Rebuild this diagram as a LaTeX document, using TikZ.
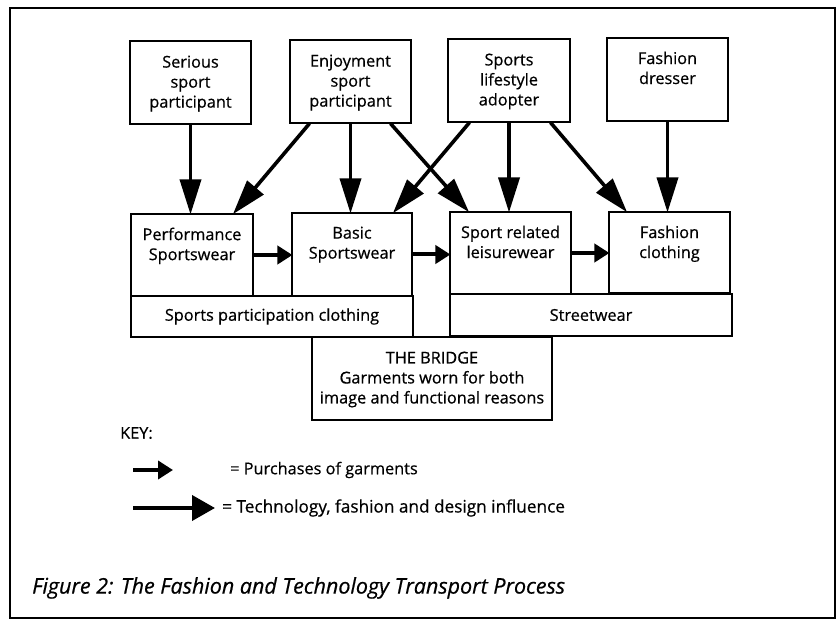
\documentclass[tikz,border=0pt]{standalone}
\usepackage{fontspec}
\setmainfont{Open Sans}
\newfontfamily\txtfont{Open Sans}[FakeBold=0.6]
\usetikzlibrary{arrows.meta,calc}

\tikzset{
  box/.style={draw, line width=1.1pt, inner sep=0pt},
  lbl/.style={anchor=north, align=center, inner sep=0pt,
              font=\txtfont\fontsize{16.3}{20}\selectfont},
  infl/.style={line width=3.6pt, -{Triangle[length=35pt,width=21pt]}, shorten >=-1pt},
  buy/.style={line width=4pt, -{Triangle[length=15pt,width=18pt]}, shorten >=-1pt},
  keyarrow/.style={line width=4pt, -{Triangle[length=23pt,width=25pt]}},
  plain/.style={anchor=west, inner sep=0pt, font=\txtfont\fontsize{16.3}{18}\selectfont},
}

\begin{document}
\begin{tikzpicture}[x=1pt,y=-1pt]
  \useasboundingbox (0,0) rectangle (838,620);

  % outer frame
  \draw[line width=2.3pt] (10,8) rectangle (835,618);

  % consumer groups
  \node[box, minimum width=121pt, minimum height=83pt] (ser) at (190.5,82.5) {};
  \node[box, minimum width=121pt, minimum height=83pt] (enj) at (350.5,81.5) {};
  \node[box, minimum width=122pt, minimum height=83pt] (spl) at (509,80.5) {};
  \node[box, minimum width=121pt, minimum height=83pt] (fdr) at (667.5,79.5) {};
  \node[lbl] (serT) at ($(ser.north)+(0,15)$) {Serious\\sport\\participant};
  \node[lbl] (enjT) at ($(enj.north)+(0,15)$) {Enjoyment\\sport\\participant};
  \node[lbl] (splT) at ($(spl.north)+(0,15)$) {Sports\\lifestyle\\adopter};
  \node[lbl] (fdrT) at ($(fdr.north)+(0,14)$) {Fashion\\dresser};

  % garment categories
  \node[box, minimum width=122pt, minimum height=82pt] (perf) at (192,255) {};
  \node[box, minimum width=120pt, minimum height=83pt] (basic) at (352,254.5) {};
  \node[box, minimum width=121pt, minimum height=82pt] (srl) at (510.5,253) {};
  \node[box, minimum width=121pt, minimum height=81pt] (fcl) at (669.5,252.5) {};
  \node[lbl] (perfT) at ($(perf.north)+(0,14)$) {Performance\\Sportswear};
  \node[lbl] (basicT) at ($(basic.north)+(0,14)$) {Basic\\Sportswear};
  \node[lbl] (srlT) at ($(srl.north)+(0,14)$) {Sport related\\leisurewear};
  \node[lbl] (fclT) at ($(fcl.north)+(0,14)$) {Fashion\\clothing};

  % groupings
  \node[box, minimum width=282pt, minimum height=41pt,
        font=\txtfont\fontsize{16.3}{18}\selectfont] (spc) at (272,316.5) {Sports participation clothing};
  \node[box, minimum width=282pt, minimum height=42pt,
        font=\txtfont\fontsize{16.3}{18}\selectfont] (stw) at (591,315) {Streetwear};
  \node[box, minimum width=240pt, minimum height=83pt] (brg) at (432,378.5) {};
  \node[lbl] (brgT) at ($(brg.north)+(0,15)$) {THE BRIDGE\\Garments worn for both\\image and functional reasons};

  % technology, fashion and design influence
  \draw[infl] (ser.south) -- (ser.south |- perf.north);
  \draw[infl] ($(enj.south west)+(20,0)$) -- ($(perf.north east)+(-20,0)$);
  \draw[infl] (enj.south) -- (enj.south |- basic.north);
  \draw[infl] ($(enj.south east)+(-21,0)$) -- ($(srl.north west)+(19,0)$);
  \draw[infl] ($(spl.south west)+(22,0)$) -- ($(basic.north east)+(-19,0)$);
  \draw[infl] (spl.south) -- (spl.south |- srl.north);
  \draw[infl] ($(spl.south east)+(-20,0)$) -- ($(fcl.north west)+(18,0)$);
  \draw[infl] (fdr.south) -- (fdr.south |- fcl.north);

  % purchases of garments
  \draw[buy] (perf.east) -- (perf.east -| basic.west);
  \draw[buy] (basic.east) -- (basic.east -| srl.west);
  \draw[buy] (srl.east) -- (srl.east -| fcl.west);

  % key
  \node[plain] (key) at (120,433) {KEY:};
  \coordinate (kpA) at (133,470);
  \coordinate (kpB) at (172,470);
  \draw[buy] (kpA) -- (kpB);
  \node[plain] (kpT) at (230,470) {= Purchases of garments};
  \coordinate (ktA) at (133,508);
  \coordinate (ktB) at (215,508);
  \draw[keyarrow] (ktA) -- (ktB);
  \node[plain, font=\txtfont\fontsize{17.2}{19}\selectfont] (ktT) at (222,508)
    {= Technology, fashion and design influence};

  % caption
  \node[anchor=west, inner sep=0pt, font=\txtfont\fontsize{21.5}{24}\selectfont\itshape]
    (cap) at (32,588) {Figure 2: The Fashion and Technology Transport Process};
\end{tikzpicture}
\end{document}
